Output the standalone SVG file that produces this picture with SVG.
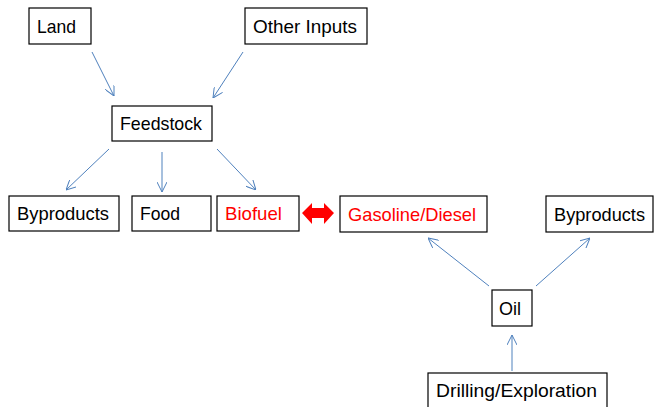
<svg xmlns="http://www.w3.org/2000/svg" width="654" height="407" viewBox="0 0 654 407">
<style>
.box{fill:#fff;stroke:#000;stroke-width:1.2}
.t{font-family:"Liberation Sans",Arial,sans-serif;font-size:19px;fill:#000}
.r{fill:#f00}
.c{stroke:#4f81bd;stroke-width:1;fill:none;marker-end:url(#ah)}
</style>
<defs>
<marker id="ah" viewBox="0 0 10 10" refX="10" refY="5" markerWidth="10" markerHeight="10" markerUnits="userSpaceOnUse" orient="auto">
<path d="M0,0 L10,5 L0,10" fill="none" stroke="#4f81bd" stroke-width="1"/>
</marker>
</defs>
<rect width="654" height="407" fill="#fff"/>
<g id="connectors">
<line class="c" x1="92" y1="52" x2="114" y2="96"/>
<line class="c" x1="243" y1="52" x2="213" y2="98"/>
<line class="c" x1="109" y1="149" x2="66" y2="190"/>
<line class="c" x1="162" y1="152" x2="162" y2="192"/>
<line class="c" x1="217" y1="149" x2="256" y2="190"/>
<line class="c" x1="489" y1="286" x2="428" y2="238"/>
<line class="c" x1="536" y1="286" x2="590" y2="238"/>
<line class="c" x1="512" y1="371" x2="512" y2="335"/>
<polygon id="dbl" fill="#f00" points="302,213 312,203 312,208 324,208 324,203 334,213 324,224 324,218 312,218 312,224"/>
</g>
<g id="land"><rect class="box" x="29" y="8" width="62" height="36"/><text class="t" x="37" y="33" textLength="39" lengthAdjust="spacingAndGlyphs">Land</text></g>
<g id="other"><rect class="box" x="245" y="8" width="122" height="36"/><text class="t" x="253" y="33" textLength="104" lengthAdjust="spacingAndGlyphs">Other Inputs</text></g>
<g id="feedstock"><rect class="box" x="112" y="106" width="100" height="35"/><text class="t" x="120" y="130" textLength="82" lengthAdjust="spacingAndGlyphs">Feedstock</text></g>
<g id="byproducts1"><rect class="box" x="9" y="196" width="110" height="35"/><text class="t" x="17" y="220" textLength="92" lengthAdjust="spacingAndGlyphs">Byproducts</text></g>
<g id="food"><rect class="box" x="132" y="196" width="79" height="35"/><text class="t" x="140" y="220" textLength="40" lengthAdjust="spacingAndGlyphs">Food</text></g>
<g id="biofuel"><rect class="box" x="217" y="196" width="82" height="35"/><text class="t r" x="225" y="220" textLength="57" lengthAdjust="spacingAndGlyphs">Biofuel</text></g>
<g id="gasoline"><rect class="box" x="340" y="196" width="147" height="36"/><text class="t r" x="348" y="221" textLength="128" lengthAdjust="spacingAndGlyphs">Gasoline/Diesel</text></g>
<g id="byproducts2"><rect class="box" x="546" y="196" width="107" height="36"/><text class="t" x="554" y="221" textLength="91" lengthAdjust="spacingAndGlyphs">Byproducts</text></g>
<g id="oil"><rect class="box" x="492" y="290" width="40" height="36"/><text class="t" x="499" y="315" textLength="22" lengthAdjust="spacingAndGlyphs">Oil</text></g>
<g id="drilling"><rect class="box" x="428" y="373" width="179" height="40"/><text class="t" x="436" y="397" textLength="161" lengthAdjust="spacingAndGlyphs">Drilling/Exploration</text></g>
</svg>
